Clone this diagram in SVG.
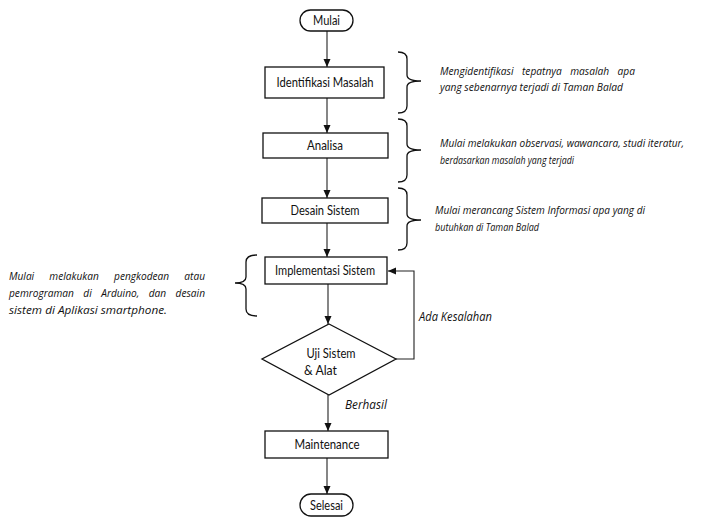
<svg xmlns="http://www.w3.org/2000/svg" width="702" height="519" viewBox="0 0 702 519">
<style>
.box{fill:#fff;stroke:#111;stroke-width:1.3}
.ln{fill:none;stroke:#222;stroke-width:1.1}
.br{fill:none;stroke:#111;stroke-width:1.3}
.lb{font-family:Lato,"Open Sans","Liberation Sans",sans-serif;font-size:12.5px;fill:#111;text-anchor:middle}
.it{font-family:"Open Sans","Noto Sans","Liberation Sans",sans-serif;font-size:10.5px;font-style:italic;fill:#111}
.it2{font-family:"Open Sans","Noto Sans","Liberation Sans",sans-serif;font-size:12px;font-style:italic;fill:#111}
</style>
<defs>
<marker id="ah" markerUnits="userSpaceOnUse" markerWidth="8" markerHeight="8" refX="8" refY="3.5" orient="auto"><path d="M0,0 L8,3.5 L0,7 z" fill="#111"/></marker>
</defs>
<rect width="702" height="519" fill="#fff"/>
<g id="connectors">
<line class="ln" x1="327" y1="31" x2="327" y2="67" marker-end="url(#ah)"/>
<line class="ln" x1="327" y1="98" x2="327" y2="133" marker-end="url(#ah)"/>
<line class="ln" x1="327" y1="158" x2="327" y2="198" marker-end="url(#ah)"/>
<line class="ln" x1="327" y1="223" x2="327" y2="257" marker-end="url(#ah)"/>
<line class="ln" x1="328" y1="284" x2="328" y2="324" marker-end="url(#ah)"/>
<polyline class="ln" points="396,359 414,359 414,271 388,271" marker-end="url(#ah)"/>
<line class="ln" x1="328" y1="395" x2="328" y2="431" marker-end="url(#ah)"/>
<line class="ln" x1="327" y1="458" x2="327" y2="494" marker-end="url(#ah)"/>
<text class="it2" x="419" y="321" textLength="73" lengthAdjust="spacingAndGlyphs">Ada Kesalahan</text>
<text class="it2" x="345" y="409" textLength="42" lengthAdjust="spacingAndGlyphs">Berhasil</text>
</g>
<g id="mulai">
<rect class="box" x="300" y="10" width="53" height="21" rx="10.5"/>
<text class="lb" x="326.5" y="25" textLength="27" lengthAdjust="spacingAndGlyphs">Mulai</text>
</g>
<g id="identifikasi">
<rect class="box" x="265" y="67" width="119" height="31"/>
<text class="lb" x="325" y="87" textLength="97" lengthAdjust="spacingAndGlyphs">Identifikasi Masalah</text>
</g>
<g id="analisa">
<rect class="box" x="263" y="133" width="125" height="25"/>
<text class="lb" x="325" y="150" textLength="36" lengthAdjust="spacingAndGlyphs">Analisa</text>
</g>
<g id="desain">
<rect class="box" x="262" y="198" width="126" height="25"/>
<text class="lb" x="325" y="215" textLength="69" lengthAdjust="spacingAndGlyphs">Desain Sistem</text>
</g>
<g id="implementasi">
<rect class="box" x="265" y="257" width="122" height="27"/>
<text class="lb" x="325" y="275" textLength="100" lengthAdjust="spacingAndGlyphs">Implementasi Sistem</text>
</g>
<g id="uji">
<polygon class="box" points="329,324 396,359 329,395 262,359"/>
<text class="lb" x="331" y="358" textLength="49" lengthAdjust="spacingAndGlyphs">Uji Sistem</text>
<text class="lb" x="304" y="375" style="text-anchor:start" textLength="33" lengthAdjust="spacingAndGlyphs">&amp; Alat</text>
</g>
<g id="maintenance">
<rect class="box" x="265" y="431" width="123" height="27"/>
<text class="lb" x="327" y="449" textLength="65" lengthAdjust="spacingAndGlyphs">Maintenance</text>
</g>
<g id="selesai">
<rect class="box" x="300" y="494" width="53" height="22" rx="11"/>
<text class="lb" x="326.5" y="510" textLength="33" lengthAdjust="spacingAndGlyphs">Selesai</text>
</g>
<g id="note1">
<path class="br" d="M398,52 Q407,52 407,59 L407,75 Q407,81 421,81 Q407,81 407,87 L407,106 Q407,113 398,113"/>
<text class="it" x="440" y="75" word-spacing="6" textLength="195" lengthAdjust="spacingAndGlyphs">Mengidentifikasi tepatnya masalah apa</text>
<text class="it" x="440" y="91" textLength="183" lengthAdjust="spacingAndGlyphs">yang sebenarnya terjadi di Taman Balad</text>
</g>
<g id="note2">
<path class="br" d="M398,119 Q407,119 407,126 L407,144 Q407,150 421,150 Q407,150 407,156 L407,175 Q407,182 398,182"/>
<text class="it" x="440" y="147" textLength="244" lengthAdjust="spacingAndGlyphs">Mulai melakukan observasi, wawancara, studi iteratur,</text>
<text class="it" x="440" y="164" textLength="134" lengthAdjust="spacingAndGlyphs">berdasarkan masalah yang terjadi</text>
</g>
<g id="note3">
<path class="br" d="M398,188 Q407,188 407,195 L407,214 Q407,220 421,220 Q407,220 407,226 L407,243 Q407,250 398,250"/>
<text class="it" x="435" y="214" textLength="210" lengthAdjust="spacingAndGlyphs">Mulai merancang Sistem Informasi apa yang di</text>
<text class="it" x="435" y="231" textLength="104" lengthAdjust="spacingAndGlyphs">butuhkan di Taman Balad</text>
</g>
<g id="note4">
<path class="br" d="M257,255 Q246,255 246,262 L246,277 Q246,283 235,283 Q246,283 246,289 L246,309 Q246,316 257,316"/>
<text class="it" x="9" y="280" word-spacing="13" textLength="196" lengthAdjust="spacingAndGlyphs">Mulai melakukan pengkodean atau</text>
<text class="it" x="9" y="297" word-spacing="7" textLength="196" lengthAdjust="spacingAndGlyphs">pemrograman di Arduino, dan desain</text>
<text class="it" x="9" y="314" textLength="158" lengthAdjust="spacingAndGlyphs">sistem di Aplikasi smartphone.</text>
</g>
</svg>
